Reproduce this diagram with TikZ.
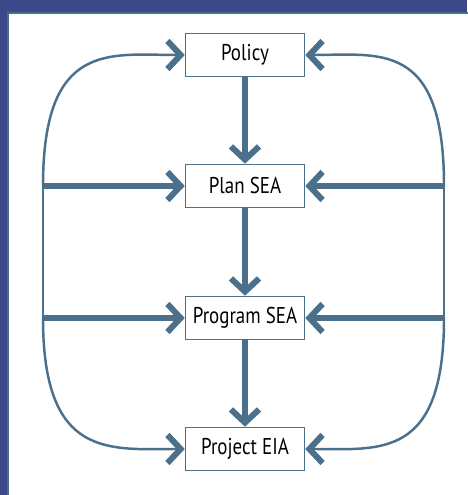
\documentclass[tikz,border=0pt]{standalone}
\usepackage{fontspec}
\setmainfont{PT Sans}
\newfontfamily\stagefont[FakeStretch=0.83]{PT Sans}
\usetikzlibrary{arrows.meta}
\definecolor{steel}{RGB}{74,112,140}
\definecolor{slide}{RGB}{59,73,140}
\definecolor{rim}{RGB}{72,112,128}

\begin{document}
\begin{tikzpicture}[
        stage/.style = {draw=steel, line width=0.9pt, fill=white, minimum width=2.38cm, minimum height=0.86cm, inner xsep=2pt, font=\stagefont\fontsize{13}{15}\selectfont},
        flow/.style  = {steel, line width=3.4pt, -{Straight Barb[length=7.5pt,width=16pt]}},
        loop/.style  = {steel, line width=1.4pt, -{Straight Barb[length=7.5pt,width=16pt,line width=3.4pt]}},
        rail/.style  = {steel, line width=1.4pt}]
        \useasboundingbox (0,0) rectangle (9.34,9.90);
        \fill[slide] (0,0) rectangle (9.34,9.90);
        \draw[rim, fill=white, line width=0.6pt] (0.16,-0.2) rectangle (9.6,9.64);
        % the four stages
        \node[stage] (pol) at (4.90,8.80) {Policy};
        \node[stage] (pln) at (4.90,6.18) {Plan SEA};
        \node[stage] (prg) at (4.90,3.54) {Program SEA};
        \node[stage] (prj) at (4.90,0.92) {Project EIA};
        \coordinate (lt) at (0.86,6.18);
        \coordinate (lb) at (0.86,3.54);
        \coordinate (rt) at (8.88,6.18);
        \coordinate (rb) at (8.88,3.54);
        % down the middle
        \draw[flow] (pol) -- (pln);
        \draw[flow] (pln) -- (prg);
        \draw[flow] (prg) -- (prj);
        % the side loops
        \draw[rail] (lt) -- (lb);
        \draw[rail] (rt) -- (rb);
        \draw[loop] (lt) .. controls (0.86,9.10) and (2.20,8.80) .. (pol.west);
        \draw[loop] (lb) .. controls (0.86,0.70) and (2.20,0.92) .. (prj.west);
        \draw[loop] (rt) .. controls (8.88,9.10) and (7.60,8.80) .. (pol.east);
        \draw[loop] (rb) .. controls (8.88,0.70) and (7.60,0.92) .. (prj.east);
        \draw[flow] (lt) -- (pln.west);
        \draw[flow] (lb) -- (prg.west);
        \draw[flow] (rt) -- (pln.east);
        \draw[flow] (rb) -- (prg.east);
\end{tikzpicture}
\end{document}
